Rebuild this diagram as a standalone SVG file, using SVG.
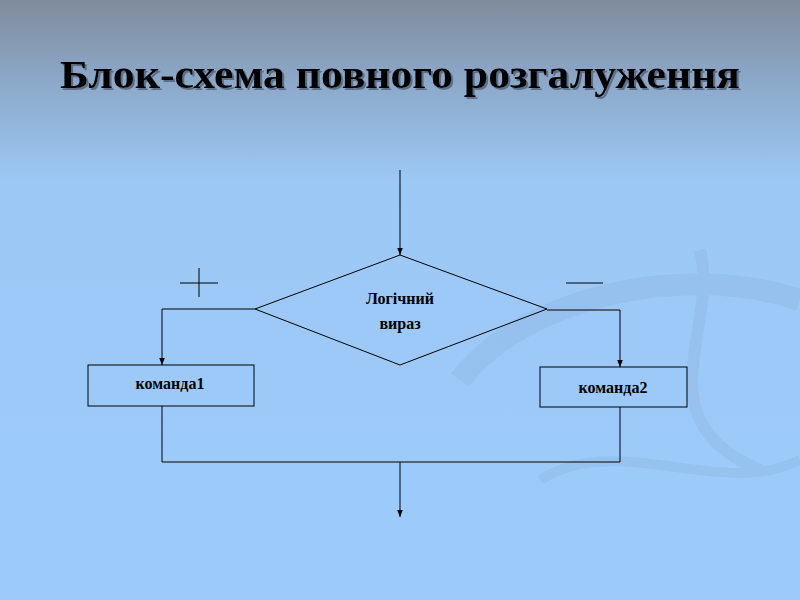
<svg xmlns="http://www.w3.org/2000/svg" width="800" height="600" viewBox="0 0 800 600">
<defs>
<linearGradient id="bg" x1="0" y1="0" x2="0" y2="1">
<stop offset="0" stop-color="#7f8c9c"/>
<stop offset="0.12" stop-color="#8aa5c4"/>
<stop offset="0.3" stop-color="#9cc8f5"/>
<stop offset="1" stop-color="#9ccbfb"/>
</linearGradient>
<filter id="shadow" x="-5%" y="-30%" width="110%" height="160%">
<feDropShadow dx="2" dy="2" stdDeviation="0.5" flood-color="#3a4a5c" flood-opacity="0.6"/>
</filter>
<marker id="ah" viewBox="0 0 10 10" refX="10" refY="5" markerWidth="7" markerHeight="7" orient="auto" markerUnits="userSpaceOnUse">
<path d="M0,1 L10,5 L0,9 z" fill="#000"/>
</marker>
<style>
.ln{fill:none;stroke:#000;stroke-width:1}
.sh{fill:none;stroke:#000;stroke-width:1}
.t{font-family:"Liberation Serif",serif;font-weight:bold;font-size:16px;fill:#000;text-anchor:middle}
</style>
</defs>
<rect width="800" height="600" fill="url(#bg)"/>
<g opacity="0.2" fill="none" stroke="#7fa4cc">
<path d="M460,380 C520,300 680,260 800,300" stroke-width="22"/>
<path d="M700,250 C720,330 640,420 760,470" stroke-width="12"/>
<path d="M540,480 C620,430 720,500 800,460" stroke-width="10"/>
</g>
<text x="60" y="88" textLength="680" lengthAdjust="spacingAndGlyphs" font-family="Liberation Serif,serif" font-weight="bold" font-size="40" fill="#000" filter="url(#shadow)">Блок-схема повного розгалуження</text>
<g id="connectors">
<line class="ln" x1="400" y1="170" x2="400" y2="255" marker-end="url(#ah)"/>
<polyline class="ln" points="255,309 162,309 162,365" marker-end="url(#ah)"/>
<polyline class="ln" points="547,310 620,310 620,367" marker-end="url(#ah)"/>
<polyline class="ln" points="162,406 162,462 620,462 620,407"/>
<line class="ln" x1="400" y1="462" x2="400" y2="517" marker-end="url(#ah)"/>
</g>
<g id="plus"><line class="ln" x1="180" y1="283" x2="218" y2="283"/><line class="ln" x1="199" y1="268" x2="199" y2="297"/></g>
<g id="minus"><line class="ln" x1="566" y1="283" x2="603" y2="283"/></g>
<g id="decision">
<polygon class="sh" points="400,255 547,309 400,365 255,309"/>
<text class="t" x="400" y="304">Логічний</text>
<text class="t" x="400" y="329">вираз</text>
</g>
<g id="cmd1">
<rect class="sh" x="88" y="365" width="166" height="41"/>
<text class="t" x="170" y="389">команда1</text>
</g>
<g id="cmd2">
<rect class="sh" x="540" y="367" width="147" height="40"/>
<text class="t" x="613" y="393">команда2</text>
</g>
</svg>
